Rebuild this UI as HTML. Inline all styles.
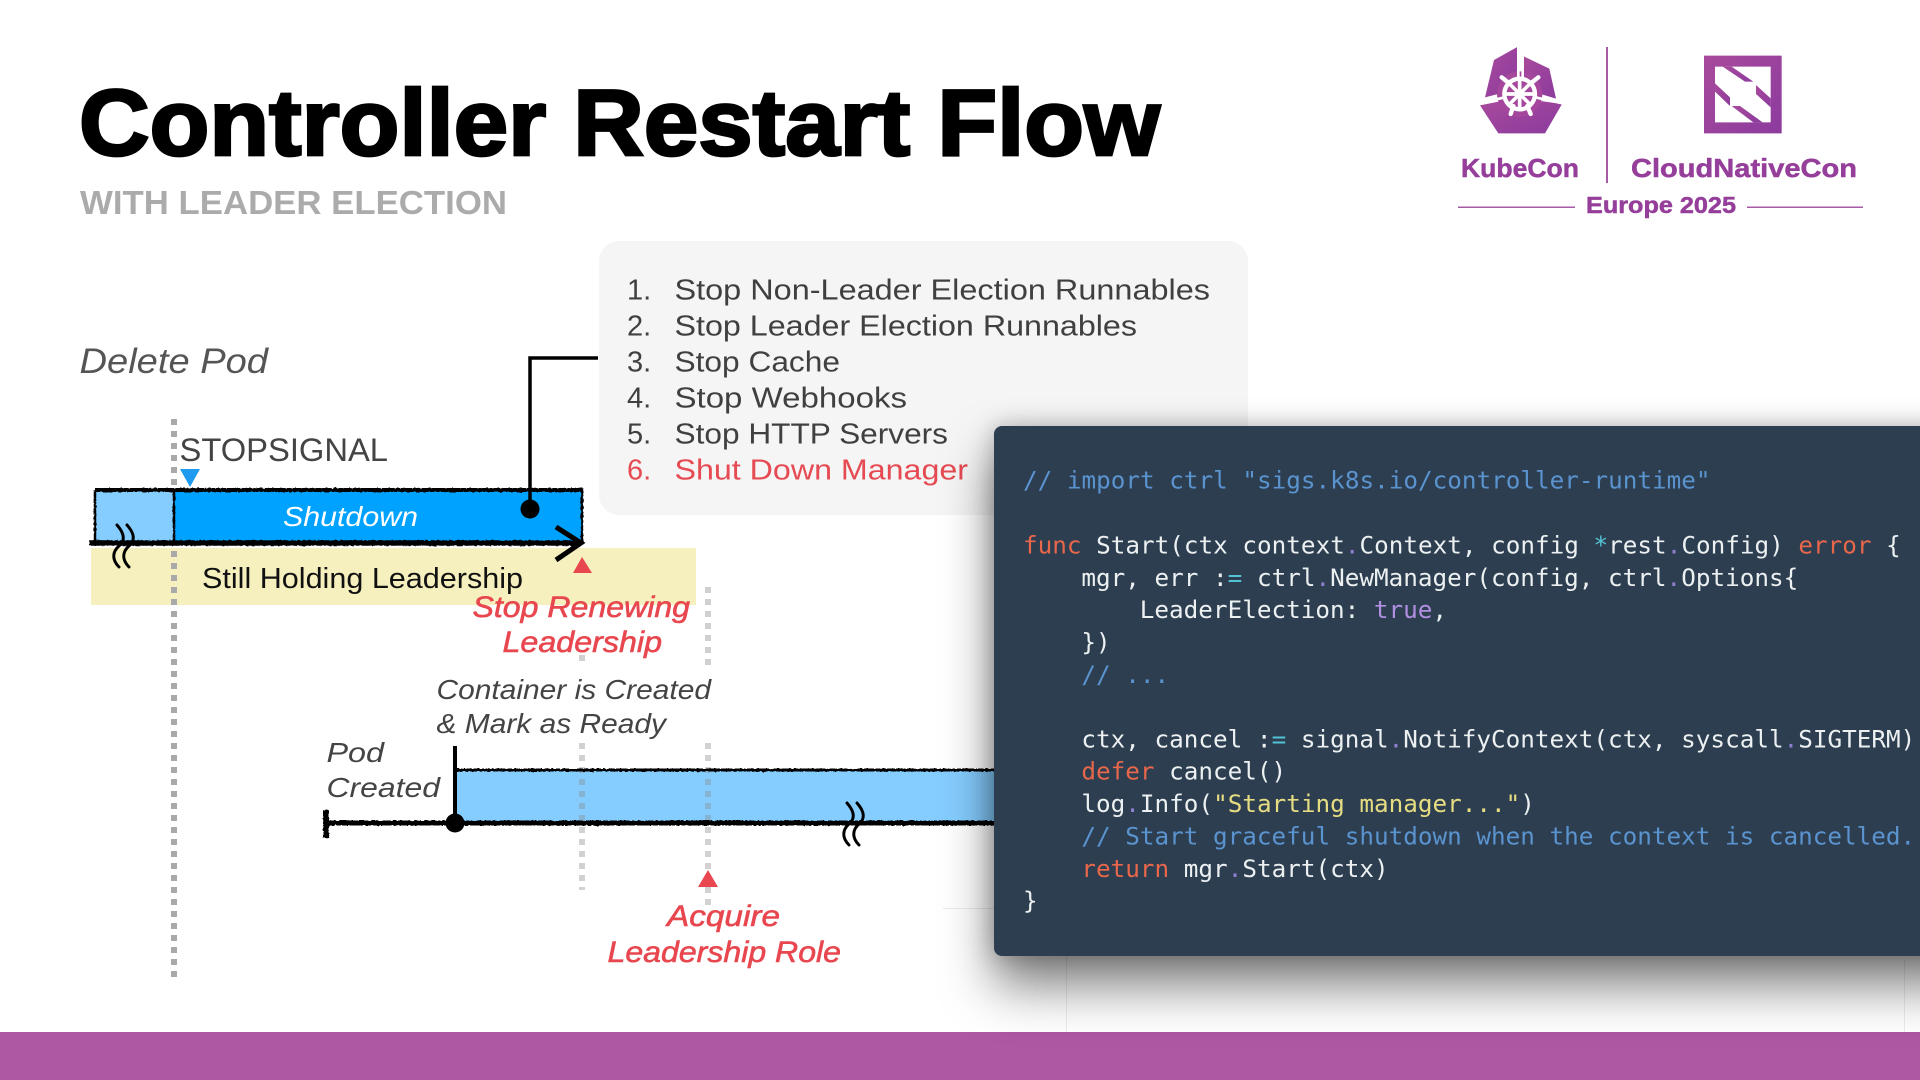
<!DOCTYPE html>
<html lang="en"><head><meta charset="utf-8"><title>Controller Restart Flow</title>
<style>
html,body{margin:0;padding:0;background:#fff;width:1920px;height:1080px;overflow:hidden}
svg{position:absolute;left:0;top:0}
#panel{position:absolute;left:994px;top:426px;width:1000px;height:530px;background:#2c3e50;border-radius:8px;box-shadow:0 30px 50px rgba(0,0,0,.5),0 0 24px rgba(0,0,0,.25)}
.s{font-family:"Liberation Sans",sans-serif}
.c text{font-family:"DejaVu Sans Mono","Liberation Mono",monospace;font-size:24.3px;fill:#ecf0f1;white-space:pre}
.k{fill:#e8674b}.m{fill:#5b93cf}.o{fill:#55c3d6}.d{fill:#8f7fd0}.t{fill:#b08fe0}.y{fill:#e6dc82}
</style></head><body>
<svg width="1920" height="1080" viewBox="0 0 1920 1080">
<defs>
<filter id="r" x="-5%" y="-20%" width="110%" height="140%"><feTurbulence type="fractalNoise" baseFrequency=".35" numOctaves="2" seed="3"/><feDisplacementMap in="SourceGraphic" scale="2.4"/></filter>
<linearGradient id="g" x1="0" y1="0" x2="1" y2="1"><stop offset="0" stop-color="#a84a9c"/><stop offset="1" stop-color="#8c3b9e"/></linearGradient>
</defs>
<!-- faint background lines -->
<path d="M1066.500 404V1032M1904.500 960V1032M943 908.500H1000M1248 521.500H1000" stroke="#ececec" stroke-width="1" fill="none"/>

<!-- title -->
<text class="s" x="79" y="155" font-size="94" font-weight="700" fill="#000" stroke="#000" stroke-width="2.800" textLength="1081" lengthAdjust="spacingAndGlyphs">Controller Restart Flow</text>
<text class="s" x="80" y="214" font-size="33" font-weight="700" fill="#ababab" textLength="427" lengthAdjust="spacingAndGlyphs">WITH LEADER ELECTION</text>

<!-- logo -->
<g transform="translate(1420 20) scale(.33333)" fill="url(#g)">
<polygon points="294,80 222,120 195,232 250,218 294,180"/>
<polygon points="309,108 388,146 408,236 348,218 309,180"/>
<polygon points="180,256 260,240 340,240 426,252 375,340 235,340"/>
<circle cx="299" cy="222" r="68" fill="#a5479c"/>
<circle cx="299" cy="222" r="46" fill="#a5479c" stroke="#fff" stroke-width="13"/>
<g stroke="#fff" stroke-width="11" stroke-linecap="round"><path d="M299 176V268M253 222H345M266 189L332 255M332 189L266 255"/><path d="M245 172L270 192M355 172L330 192M272 282L280 258M332 282L322 258" stroke-width="13"/></g>
<path d="M295 80V180M308 105V180M178 250L255 232M345 232L428 250" stroke="#fff" stroke-width="8" fill="none"/>
<path fill-rule="evenodd" d="M852 107H1085V340H852ZM885 140V307H1052V140Z"/>
<polygon points="908,140 935,140 1000,185 975,185"/>
<polygon points="1008,195 1052,235 1052,262 1008,222"/>
<polygon points="885,190 930,232 930,258 885,215"/>
<polygon points="935,258 960,258 1028,307 1000,307"/>
</g>
<rect x="1606" y="47" width="2" height="136" fill="#a85aa5"/>
<rect x="1458" y="206.500" width="117" height="1.500" fill="#a85aa5"/><rect x="1747" y="206.500" width="116" height="1.500" fill="#a85aa5"/>
<g class="s" font-weight="700" fill="#953f9b" stroke="#953f9b" stroke-width=".5">
<text x="1461" y="177" font-size="26" textLength="118" lengthAdjust="spacingAndGlyphs">KubeCon</text>
<text x="1631" y="177" font-size="26" textLength="226" lengthAdjust="spacingAndGlyphs">CloudNativeCon</text>
<text x="1586" y="213" font-size="23" textLength="150" lengthAdjust="spacingAndGlyphs">Europe 2025</text>
</g>

<!-- list -->
<rect x="599" y="241" width="649" height="274" rx="20" fill="#f5f5f5"/>
<g class="s" font-size="29" fill="#404040">
<text x="627" y="299.500">1.</text><text x="674.500" y="299.500" textLength="535.500" lengthAdjust="spacingAndGlyphs">Stop Non-Leader Election Runnables</text>
<text x="627" y="335.500">2.</text><text x="674.500" y="335.500" textLength="462.500" lengthAdjust="spacingAndGlyphs">Stop Leader Election Runnables</text>
<text x="627" y="371.500">3.</text><text x="674.500" y="371.500" textLength="165.500" lengthAdjust="spacingAndGlyphs">Stop Cache</text>
<text x="627" y="407.500">4.</text><text x="674.500" y="407.500" textLength="232.500" lengthAdjust="spacingAndGlyphs">Stop Webhooks</text>
<text x="627" y="443.500">5.</text><text x="674.500" y="443.500" textLength="273.500" lengthAdjust="spacingAndGlyphs">Stop HTTP Servers</text>
<g fill="#e64a52"><text x="627" y="479.500">6.</text><text x="674.500" y="479.500" textLength="293.500" lengthAdjust="spacingAndGlyphs">Shut Down Manager</text></g>
</g>

<text class="s" x="79.500" y="373" font-size="35" font-style="italic" fill="#555" textLength="188.500" lengthAdjust="spacingAndGlyphs">Delete Pod</text>
<text class="s" x="179.500" y="461" font-size="32" fill="#444" textLength="208.500" lengthAdjust="spacingAndGlyphs">STOPSIGNAL</text>

<!-- yellow band -->
<rect x="91" y="548" width="605" height="57" fill="#f5f0bd"/>

<!-- dashed verticals -->
<path d="M174 419V978" stroke="#a9a9a9" stroke-width="6" stroke-dasharray="6 6" fill="none"/>
<path d="M582 655V663M708 587V665" stroke="#d0d0d0" stroke-width="6" stroke-dasharray="6 6" fill="none"/>

<!-- shutdown box -->
<rect x="95" y="490" width="79" height="53" fill="#85cdff"/>
<rect x="174" y="490" width="409" height="53" fill="#00a2ff"/>
<polygon points="180,469 200,469 190,487" fill="#1e9bef"/>
<text class="s" x="283" y="526" font-size="28" font-style="italic" fill="#fff" textLength="135" lengthAdjust="spacingAndGlyphs">Shutdown</text>
<g fill="none" stroke="#000" filter="url(#r)">
<path d="M95 490H583" stroke-width="4"/>
<path d="M95 490V543M174 490V543M582 490V543" stroke-width="2.500"/>
<path d="M89 543H581" stroke-width="5.500"/>
</g>
<path d="M556 527L581 543L556 560" fill="none" stroke="#000" stroke-width="5"/>
<path d="M530 509V358H598" fill="none" stroke="#000" stroke-width="3.500"/>
<circle cx="530" cy="509" r="9.500" fill="#000"/>
<g fill="none" stroke="#000" stroke-width="3" stroke-linecap="round">
<path d="M117 525C125 534 125 541 119 546C112 552 112 560 119 567"/>
<path d="M127 525C135 534 135 541 129 546C122 552 122 560 129 567"/>
</g>

<text class="s" x="202" y="588" font-size="29" fill="#111" textLength="321" lengthAdjust="spacingAndGlyphs">Still Holding Leadership</text>
<polygon points="582,557 592,573 573,573" fill="#e8474f"/>
<g class="s" font-size="30" font-style="italic" fill="#e8474f" stroke="#e8474f" stroke-width=".6">
<text x="472.500" y="617" textLength="217.500" lengthAdjust="spacingAndGlyphs">Stop Renewing</text>
<text x="502.500" y="652" textLength="159.500" lengthAdjust="spacingAndGlyphs">Leadership</text>
<text x="667" y="926" textLength="113" lengthAdjust="spacingAndGlyphs">Acquire</text>
<text x="607.500" y="962" textLength="233.500" lengthAdjust="spacingAndGlyphs">Leadership Role</text>
</g>

<g class="s" font-size="28" font-style="italic" fill="#444">
<text x="436.500" y="699" textLength="274.500" lengthAdjust="spacingAndGlyphs">Container is Created</text>
<text x="436.500" y="733" textLength="229.500" lengthAdjust="spacingAndGlyphs">&amp; Mark as Ready</text>
<text x="326.500" y="762" textLength="57.500" lengthAdjust="spacingAndGlyphs">Pod</text>
<text x="326.500" y="797" textLength="113.500" lengthAdjust="spacingAndGlyphs">Created</text>
</g>

<!-- pod box -->
<rect x="455" y="770" width="560" height="53" fill="#85cdff"/>
<path d="M582 743V890" stroke="#8a8a8a" stroke-opacity=".38" stroke-width="6" stroke-dasharray="6 6" fill="none"/>
<path d="M708 743V905" stroke="#8a8a8a" stroke-opacity=".38" stroke-width="6" stroke-dasharray="6 6" fill="none"/>
<polygon points="708,870 718,887 698,887" fill="#e8474f"/>
<g fill="none" stroke="#000" filter="url(#r)">
<path d="M455 770H1010" stroke-width="3"/>
<path d="M327 823H1010" stroke-width="5"/>
<path d="M326 810V838" stroke-width="6"/>
</g>
<path d="M455 746V823" stroke="#000" stroke-width="4" fill="none"/>
<circle cx="455" cy="823" r="9.500" fill="#000"/>
<g fill="none" stroke="#000" stroke-width="3" stroke-linecap="round">
<path d="M847 803C855 812 855 819 849 824C842 830 842 838 849 845"/>
<path d="M857 803C865 812 865 819 859 824C852 830 852 838 859 845"/>
</g>

<!-- bottom bar -->
<rect x="0" y="1032" width="1920" height="48" fill="#ae57a2"/>
</svg>

<div id="panel"></div>

<svg width="1920" height="1080" viewBox="0 0 1920 1080" class="c" xml:space="preserve">
<text x="1023" y="488.500" style="fill:#5b93cf">// import ctrl "sigs.k8s.io/controller-runtime"</text>
<text x="1023" y="553.500"><tspan class="k">func</tspan> Start(ctx context<tspan class="d">.</tspan>Context, config <tspan class="o">*</tspan>rest<tspan class="d">.</tspan>Config) <tspan class="k">error</tspan> {</text>
<text x="1081.400" y="586">mgr, err :<tspan class="o">=</tspan> ctrl<tspan class="d">.</tspan>NewManager(config, ctrl<tspan class="d">.</tspan>Options{</text>
<text x="1139.800" y="618">LeaderElection: <tspan class="t">true</tspan>,</text>
<text x="1081.400" y="650.500">})</text>
<text x="1081.400" y="683" style="fill:#5b93cf">// ...</text>
<text x="1081.400" y="747.500">ctx, cancel :<tspan class="o">=</tspan> signal<tspan class="d">.</tspan>NotifyContext(ctx, syscall<tspan class="d">.</tspan>SIGTERM)</text>
<text x="1081.400" y="779.500"><tspan class="k">defer</tspan> cancel()</text>
<text x="1081.400" y="812">log<tspan class="d">.</tspan>Info(<tspan class="y">"Starting manager..."</tspan>)</text>
<text x="1081.400" y="844.500" style="fill:#5b93cf">// Start graceful shutdown when the context is cancelled.</text>
<text x="1081.400" y="877"><tspan class="k">return</tspan> mgr<tspan class="d">.</tspan>Start(ctx)</text>
<text x="1023" y="909">}</text>
</svg>
</body></html>
